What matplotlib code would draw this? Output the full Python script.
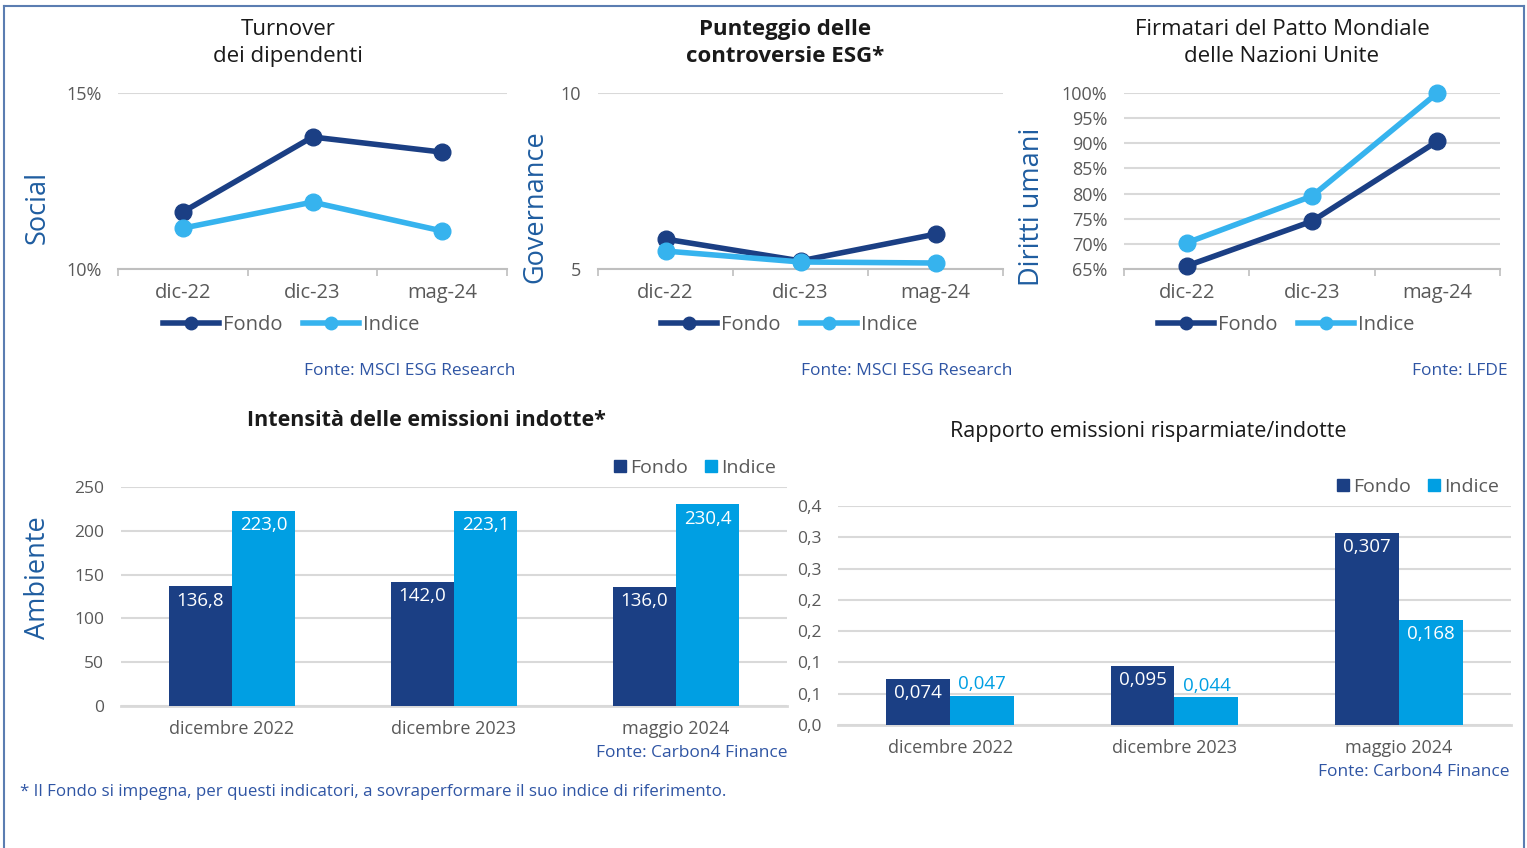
import matplotlib
matplotlib.use("Agg")
import matplotlib.pyplot as plt
import numpy as np
from matplotlib.lines import Line2D
from matplotlib.ticker import FuncFormatter

plt.rcParams["font.family"] = ["Open Sans", "DejaVu Sans"]

# data
periods = ["dic-22", "dic-23", "mag-24"]
turnover_fondo = [11.62, 13.75, 13.32]
turnover_indice = [11.16, 11.90, 11.08]
controversie_fondo = [5.85, 5.23, 5.99]
controversie_indice = [5.51, 5.20, 5.17]
patto_fondo = [65.6, 74.5, 90.4]
patto_indice = [70.2, 79.5, 100.0]

bar_periods = ["dicembre 2022", "dicembre 2023", "maggio 2024"]
intensita_fondo = [136.8, 142.0, 136.0]
intensita_indice = [223.0, 223.1, 230.4]
rapporto_fondo = [0.074, 0.095, 0.307]
rapporto_indice = [0.047, 0.044, 0.168]

NAVY = "#1B3F84"
LIGHT = "#36B3EE"
BAR_LIGHT = "#009FE3"
AXIS_BLUE = "#1F5DA0"
SRC = "#2F55A4"
GRAY = "#595959"
GRID = "#D9D9D9"

W, H = 1527, 848
fig = plt.figure(figsize=(W / 100, H / 100), dpi=100)


def px_axes(left, top, right, bottom):
    return fig.add_axes([left / W, 1 - bottom / H, (right - left) / W, (bottom - top) / H])


def ftext(x, y, s, **kw):
    fig.text(x / W, 1 - y / H, s, **kw)


# frame around the page
for xs, ys in [([4, 1524], [6, 6]), ([4, 4], [6, 848]), ([1524, 1524], [6, 848])]:
    fig.add_artist(Line2D([x / W for x in xs], [1 - y / H for y in ys],
                          color="#5B7DB1", lw=1.5))


def line_chart(box, fondo, indice, yticks, ylabels, title, bold, ylab, ylab_x, legend_x, src, src_x):
    ax = px_axes(*box)
    x = np.arange(len(periods))
    ax.plot(x, fondo, color=NAVY, lw=4, marker="o", ms=12, clip_on=False, zorder=3)
    ax.plot(x, indice, color=LIGHT, lw=4, marker="o", ms=12, clip_on=False, zorder=3)
    ax.set_xlim(-0.5, 2.5)
    ax.set_ylim(yticks[0], yticks[-1])
    ax.set_yticks(yticks)
    ax.set_yticklabels(ylabels, fontsize=13, color=GRAY)
    ax.set_xticks(x)
    ax.set_xticklabels(periods, fontsize=14.5, color=GRAY)
    ax.set_xticks([-0.5, 0.5, 1.5, 2.5], minor=True)
    ax.tick_params(axis="both", which="major", length=0, pad=10)
    ax.tick_params(axis="y", pad=12)
    ax.tick_params(axis="x", which="minor", length=5, color="#BFBFBF", width=1.2)
    ax.grid(axis="y", color=GRID, lw=1.5)
    ax.set_axisbelow(True)
    for s in ["top", "right", "left"]:
        ax.spines[s].set_visible(False)
    ax.spines["bottom"].set_color("#BFBFBF")
    ax.spines["bottom"].set_linewidth(1.5)
    ftext(title[0], 43, title[1], ha="center", va="center", fontsize=16,
          fontweight="bold" if bold else "normal", color="#1a1a1a", linespacing=1.35)
    ftext(ylab_x, 207, ylab, rotation=90, ha="center", va="center", fontsize=19.5, color=AXIS_BLUE)
    handles = [Line2D([], [], color=NAVY, lw=4, marker="o", ms=9),
               Line2D([], [], color=LIGHT, lw=4, marker="o", ms=9)]
    fig.legend(handles, ["Fondo", "Indice"], loc="center", bbox_to_anchor=(legend_x / W, 1 - 325 / H),
               ncol=2, frameon=False, fontsize=14.5, handlelength=2.8, handletextpad=0.2,
               columnspacing=1.0, labelcolor=GRAY)
    ftext(src_x, 371, src, ha="right", va="center", fontsize=12.5, color=SRC)
    return ax


line_chart((118, 93, 507, 269), turnover_fondo, turnover_indice, [10, 15], ["10%", "15%"],
           (288, "Turnover\ndei dipendenti"), False, "Social", 38, 291,
           "Fonte: MSCI ESG Research", 515)
line_chart((598, 93, 1003, 269), controversie_fondo, controversie_indice, [5, 10], ["5", "10"],
           (785, "Punteggio delle\ncontroversie ESG*"), True, "Governance", 535, 789,
           "Fonte: MSCI ESG Research", 1012)
pct = list(range(65, 101, 5))
line_chart((1124, 93, 1500, 269), patto_fondo, patto_indice, pct, [f"{p}%" for p in pct],
           (1282, "Firmatari del Patto Mondiale\ndelle Nazioni Unite"), False, "Diritti umani", 1032, 1286,
           "Fonte: LFDE", 1508)


def bar_chart(box, fondo, indice, ylim, yticks, fmt, yfmt, title, bold, title_y, legend_xy, src, src_xy,
              outside_thr):
    ax = px_axes(*box)
    x = np.arange(len(bar_periods))
    w = 0.285
    b1 = ax.bar(x - w / 2, fondo, w, color=NAVY, zorder=3)
    b2 = ax.bar(x + w / 2, indice, w, color=BAR_LIGHT, zorder=3)
    ax.set_xlim(-0.5, 2.5)
    ax.set_ylim(*ylim)
    ax.set_yticks(yticks)
    ax.yaxis.set_major_formatter(FuncFormatter(yfmt))
    ax.set_xticks(x)
    ax.set_xticklabels(bar_periods, fontsize=13, color=GRAY)
    ax.tick_params(axis="y", labelsize=12.5, labelcolor=GRAY)
    ax.tick_params(axis="both", length=0)
    ax.tick_params(axis="x", pad=10)
    ax.tick_params(axis="y", pad=12)
    ax.grid(axis="y", color=GRID, lw=1.5)
    ax.set_axisbelow(True)
    for s in ["top", "right", "left"]:
        ax.spines[s].set_visible(False)
    ax.spines["bottom"].set_color(GRID)
    ax.spines["bottom"].set_linewidth(2)
    span = ylim[1] - ylim[0]
    for bars, vals in [(b1, fondo), (b2, indice)]:
        for r, v in zip(bars, vals):
            cx = r.get_x() + r.get_width() / 2
            if v < outside_thr:
                ax.text(cx, v + span * 0.012, fmt(v), ha="center", va="bottom",
                        fontsize=13.5, color=BAR_LIGHT)
            else:
                ax.text(cx, v - span * 0.025, fmt(v), ha="center", va="top",
                        fontsize=13.5, color="white")
    ftext(title[0], title_y, title[1], ha="center", va="center", fontsize=15.5,
          fontweight="bold" if bold else "normal", color="#1a1a1a")
    handles = [plt.Rectangle((0, 0), 1, 1, color=NAVY), plt.Rectangle((0, 0), 1, 1, color=BAR_LIGHT)]
    fig.legend(handles, ["Fondo", "Indice"], loc="center",
               bbox_to_anchor=(legend_xy[0] / W, 1 - legend_xy[1] / H), ncol=2, frameon=False,
               fontsize=14, handlelength=0.6, handleheight=0.6, handletextpad=0.2,
               columnspacing=0.9, labelcolor=GRAY)
    ftext(src_xy[0], src_xy[1], src, ha="right", va="center", fontsize=12.5, color=SRC)
    return ax


bar_chart((121, 487, 787, 706), intensita_fondo, intensita_indice, (0, 250), list(range(0, 251, 50)),
          lambda v: f"{v:.1f}".replace(".", ","), lambda v, p: f"{v:.0f}",
          (426, "Intensità delle emissioni indotte*"), True, 421, (695, 468),
          "Fonte: Carbon4 Finance", (787, 753), -1)
ftext(38, 578, "Ambiente", rotation=90, ha="center", va="center", fontsize=19.5, color=AXIS_BLUE)


def round_half_up(v, p=None):
    return f"{np.floor(v * 10 + 0.5 + 1e-9) / 10:.1f}".replace(".", ",")


bar_chart((838, 506, 1511, 725), rapporto_fondo, rapporto_indice, (0, 0.35),
          list(np.arange(0, 0.351, 0.05)),
          lambda v: f"{v:.3f}".replace(".", ","), round_half_up,
          (1148, "Rapporto emissioni risparmiate/indotte"), False, 431, (1418, 487),
          "Fonte: Carbon4 Finance", (1510, 772), 0.06)

ftext(20, 792, "* Il Fondo si impegna, per questi indicatori, a sovraperformare il suo indice di riferimento.",
      ha="left", va="center", fontsize=12.2, color=SRC)

fig.savefig("out.png", dpi=100)
